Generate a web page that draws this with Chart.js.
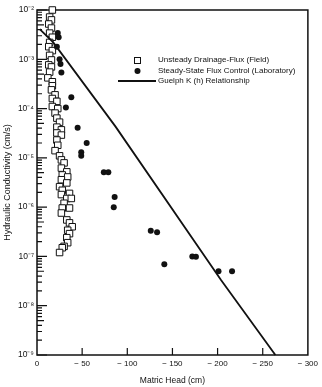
<!DOCTYPE html>
<html>
<head>
<meta charset="utf-8">
<script src="https://cdn.jsdelivr.net/npm/chart.js@4.4.0/dist/chart.umd.min.js"></script>
<style>
  html, body { margin: 0; padding: 0; background: #fff; }
  #wrap { width: 322px; height: 387px; }
</style>
</head>
<body>
<div id="wrap"><canvas id="kChart" width="322" height="387"></canvas></div>
<script>
// matric head (cm) / hydraulic conductivity (cm/s)
const fieldHead = [-17, -14, -16, -13, -16, -14, -17, -14, -13, -17, -14, -16, -13, -16, -14, -12,
    -17, -17, -16, -20, -17, -22, -17, -23, -20, -22, -25, -22, -27, -22, -27, -22, -23, -20, -25,
    -27, -30, -27, -33, -28, -34, -27, -33, -25, -28, -36, -27, -33, -38, -30, -28, -36, -27, -33,
    -36, -39, -34, -36, -33, -34, -30, -28, -25];
const fieldK = [1e-2, 7.2e-3, 6.3e-3, 5.2e-3, 4.3e-3, 3.4e-3, 2.8e-3, 2.2e-3, 1.8e-3, 1.5e-3, 1.2e-3,
    9.7e-4, 7.7e-4, 7.0e-4, 5.5e-4, 4.2e-4, 3.5e-4, 2.9e-4, 2.4e-4, 1.9e-4, 1.6e-4, 1.4e-4, 1.1e-4,
    1.0e-4, 8.1e-5, 6.4e-5, 5.3e-5, 4.2e-5, 3.7e-5, 3.2e-5, 2.9e-5, 2.3e-5, 1.8e-5, 1.4e-5, 1.1e-5,
    9.1e-6, 7.9e-6, 6.2e-6, 5.2e-6, 4.5e-6, 4.1e-6, 3.6e-6, 3.1e-6, 2.6e-6, 2.2e-6, 1.9e-6, 1.8e-6,
    1.5e-6, 1.5e-6, 1.2e-6, 9.6e-7, 9.6e-7, 7.6e-7, 5.5e-7, 4.8e-7, 4.0e-7, 3.4e-7, 2.9e-7, 2.4e-7,
    1.9e-7, 1.6e-7, 1.5e-7, 1.2e-7];

const labHead = [-23, -24, -22, -25, -26, -27, -38, -32, -45, -55, -49, -49, -74, -79, -86, -85,
    -126, -133, -141, -172, -176, -201, -216];
const labK = [3.4e-3, 2.8e-3, 1.8e-3, 1.0e-3, 8.0e-4, 5.4e-4, 1.7e-4, 1.05e-4, 4.1e-5, 2.0e-5, 1.3e-5,
    1.1e-5, 5.1e-6, 5.1e-6, 1.6e-6, 1.0e-6, 3.3e-7, 3.1e-7, 6.9e-8, 1.0e-7, 9.8e-8, 5.0e-8, 5.0e-8];

const guelphHead = [-3, -18, -87, -204, -264];
const guelphK = [4.1e-3, 2.2e-3, 4.3e-5, 3.3e-8, 1e-9];

const headTicks = [0, -50, -100, -150, -200, -250, -300];
const headTickLabels = ['0', '\u2212 50', '\u2212 100', '\u2212 150', '\u2212 200', '\u2212 250', '\u2212 300'];
const kTicks = [1e-2, 1e-3, 1e-4, 1e-5, 1e-6, 1e-7, 1e-8, 1e-9];
const kTickLabels = ['10\u207B\u00B2', '10\u207B\u00B3', '10\u207B\u2074', '10\u207B\u2075',
    '10\u207B\u2076', '10\u207B\u2077', '10\u207B\u2078', '10\u207B\u2079'];

const legendLabels = ['Unsteady Drainage-Flux (Field)', 'Steady-State Flux Control (Laboratory)',
    'Guelph K (h) Relationship'];

const FONT = "'Liberation Sans', Arial, sans-serif";
const INK = '#111';

function pairs(xs, ys) {
    return xs.map((x, i) => ({ x: x, y: ys[i] }));
}

// frame on all four sides + inward tick marks
const frameTicks = {
    id: 'frameTicks',
    beforeDatasetsDraw(chart) {
        const ctx = chart.ctx;
        const a = chart.chartArea;
        const xs = chart.scales.x;
        const ys = chart.scales.y;
        ctx.save();
        ctx.strokeStyle = INK;
        ctx.lineWidth = 1.5;
        ctx.strokeRect(a.left, a.top, a.right - a.left, a.bottom - a.top);

        ctx.lineWidth = 1.2;
        ctx.beginPath();
        kTicks.forEach(v => {
            const y = ys.getPixelForValue(v);
            ctx.moveTo(a.left, y);
            ctx.lineTo(a.left + 10, y);
        });
        for (let e = -9; e < -2; e++) {
            for (let m = 2; m <= 9; m++) {
                const y = ys.getPixelForValue(m * Math.pow(10, e));
                ctx.moveTo(a.left, y);
                ctx.lineTo(a.left + (m === 5 ? 7 : 5), y);
            }
        }
        headTicks.slice(1, -1).forEach(v => {
            const x = xs.getPixelForValue(v);
            ctx.moveTo(x, a.bottom);
            ctx.lineTo(x, a.bottom - 7);
        });
        ctx.stroke();
        ctx.restore();
    }
};

// legend drawn inside the plot area
const insideLegend = {
    id: 'insideLegend',
    afterDatasetsDraw(chart) {
        const ctx = chart.ctx;
        const rows = [60, 71, 81];
        const ds = chart.data.datasets;
        ctx.save();
        ctx.font = '8px ' + FONT;
        ctx.textBaseline = 'middle';
        ctx.textAlign = 'left';

        // field squares
        ctx.strokeStyle = ds[2].borderColor;
        ctx.lineWidth = 1;
        ctx.fillStyle = '#fff';
        ctx.fillRect(134, rows[0] - 3, 6, 6);
        ctx.strokeRect(134.5, rows[0] - 2.5, 6, 6);
        // lab dots
        ctx.fillStyle = ds[0].backgroundColor;
        ctx.beginPath();
        ctx.arc(137.5, rows[1], 3, 0, Math.PI * 2);
        ctx.fill();
        // guelph line
        ctx.strokeStyle = ds[1].borderColor;
        ctx.lineWidth = ds[1].borderWidth;
        ctx.beginPath();
        ctx.moveTo(118, rows[2]);
        ctx.lineTo(156, rows[2]);
        ctx.stroke();

        ctx.fillStyle = INK;
        legendLabels.forEach((t, i) => ctx.fillText(t, 158, rows[i]));
        ctx.restore();
    }
};

const chart = new Chart(document.getElementById('kChart').getContext('2d'), {
    type: 'scatter',
    data: {
        datasets: [
            {
                label: legendLabels[1],
                data: pairs(labHead, labK),
                pointStyle: 'circle',
                radius: 3,
                backgroundColor: INK,
                borderColor: INK,
                borderWidth: 0,
                order: 0
            },
            {
                label: legendLabels[2],
                type: 'line',
                data: pairs(guelphHead, guelphK),
                borderColor: INK,
                borderWidth: 1.8,
                pointRadius: 0,
                fill: false,
                tension: 0,
                order: 1
            },
            {
                label: legendLabels[0],
                data: pairs(fieldHead, fieldK),
                pointStyle: 'rect',
                radius: 4.6,
                backgroundColor: '#fff',
                borderColor: INK,
                borderWidth: 1,
                order: 2
            }
        ]
    },
    options: {
        responsive: false,
        animation: false,
        devicePixelRatio: 1,
        events: [],
        clip: false,
        layout: { padding: { top: 10, right: 9, left: 0, bottom: 0 } },
        plugins: {
            legend: { display: false },
            tooltip: { enabled: false }
        },
        scales: {
            x: {
                type: 'linear',
                min: -300,
                max: 0,
                reverse: true,
                afterBuildTicks: s => { s.ticks = headTicks.map(v => ({ value: v })); },
                afterFit: s => { s.height = 32; },
                grid: { display: false, drawTicks: false },
                border: { display: false },
                ticks: {
                    padding: 4,
                    maxRotation: 0,
                    autoSkip: false,
                    color: INK,
                    font: { family: FONT, size: 8 },
                    callback: v => headTickLabels[headTicks.indexOf(v)]
                },
                title: {
                    display: true,
                    text: 'Matric Head (cm)',
                    color: INK,
                    font: { family: FONT, size: 8.5 },
                    padding: { top: 0, bottom: 1 }
                }
            },
            y: {
                type: 'logarithmic',
                min: 1e-9,
                max: 1e-2,
                afterBuildTicks: s => { s.ticks = kTicks.map(v => ({ value: v })); },
                afterFit: s => { s.width = 37; },
                grid: { display: false, drawTicks: false },
                border: { display: false },
                ticks: {
                    padding: 3,
                    autoSkip: false,
                    color: INK,
                    font: { family: FONT, size: 8.5 },
                    callback: v => kTickLabels[kTicks.indexOf(v)]
                },
                title: {
                    display: true,
                    text: 'Hydraulic Conductivity (cm/s)',
                    color: INK,
                    font: { family: FONT, size: 9 },
                    padding: { top: 2, bottom: 0 }
                }
            }
        }
    },
    plugins: [frameTicks, insideLegend]
});
</script>
</body>
</html>
